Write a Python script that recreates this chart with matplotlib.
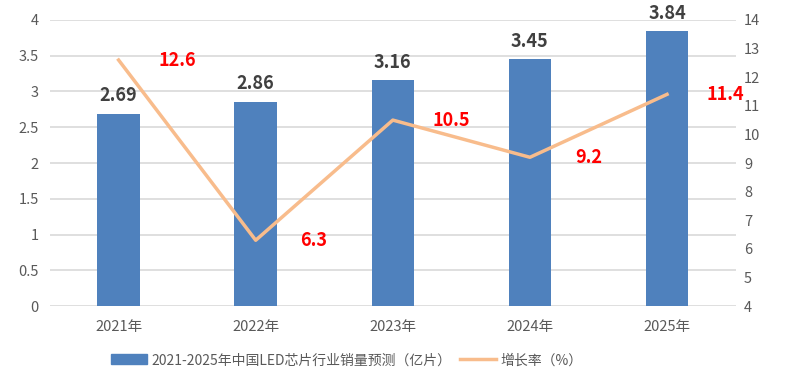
import numpy as np
import matplotlib.pyplot as plt
from matplotlib.patches import Patch
from matplotlib.lines import Line2D

plt.rcParams['font.family'] = ['Noto Sans CJK SC', 'DejaVu Sans']

years = ['2021年', '2022年', '2023年', '2024年', '2025年']
sales = [2.69, 2.86, 3.16, 3.45, 3.84]
growth = [12.6, 6.3, 10.5, 9.2, 11.4]

bar_color = '#4F81BD'
line_color = '#F8BC8C'
tick_color = '#595959'

fig = plt.figure(figsize=(7.88, 3.84), dpi=100)
ax = fig.add_axes([0.0635, 0.203, 0.870, 0.745])
x = np.arange(len(years))

ax.bar(x, sales, width=0.31, color=bar_color, zorder=2)
ax.set_ylim(0, 4)
ax.set_yticks(np.arange(0, 4.01, 0.5))
ax.set_yticklabels(['0', '0.5', '1', '1.5', '2', '2.5', '3', '3.5', '4'])
ax.set_xlim(-0.5, 4.5)
ax.set_xticks(x)
ax.set_xticklabels(years)
ax.grid(axis='y', color='#D9D9D9', linewidth=1.2, zorder=0)
ax.set_axisbelow(True)
for s in ax.spines.values():
    s.set_visible(False)
ax.tick_params(length=0, colors=tick_color, labelsize=10.5)
ax.tick_params(axis='x', pad=10)
ax.tick_params(axis='y', pad=8)

for xi, v in zip(x, sales):
    ax.annotate(f'{v:.2f}', (xi, v), xytext=(0, 6), textcoords='offset points',
                ha='center', va='bottom', fontsize=13, fontweight='bold',
                color='#404040')

ax2 = ax.twinx()
ax2.plot(x, growth, color=line_color, linewidth=2.5, zorder=3)
ax2.set_ylim(4, 14)
ax2.set_yticks(np.arange(4, 15, 1))
for s in ax2.spines.values():
    s.set_visible(False)
ax2.tick_params(length=0, colors=tick_color, labelsize=10.5, pad=6)

for xi, v in zip(x, growth):
    ax2.annotate(f'{v:.1f}', (xi, v), xytext=(42, 0), textcoords='offset points',
                 ha='center', va='center', fontsize=13, fontweight='bold',
                 color='#FF0000')

handles = [Patch(color=bar_color), Line2D([0], [0], color=line_color, linewidth=2.5)]
labels = ['2021-2025年中国LED芯片行业销量预测（亿片）', '增长率（%）']
fig.legend(handles, labels, loc='center', bbox_to_anchor=(0.44, 0.062), ncol=2,
           frameon=False, fontsize=10, labelcolor=tick_color,
           handlelength=2.6, handleheight=0.7, columnspacing=0.6, handletextpad=0.3)

fig.savefig('out.png', dpi=100)
